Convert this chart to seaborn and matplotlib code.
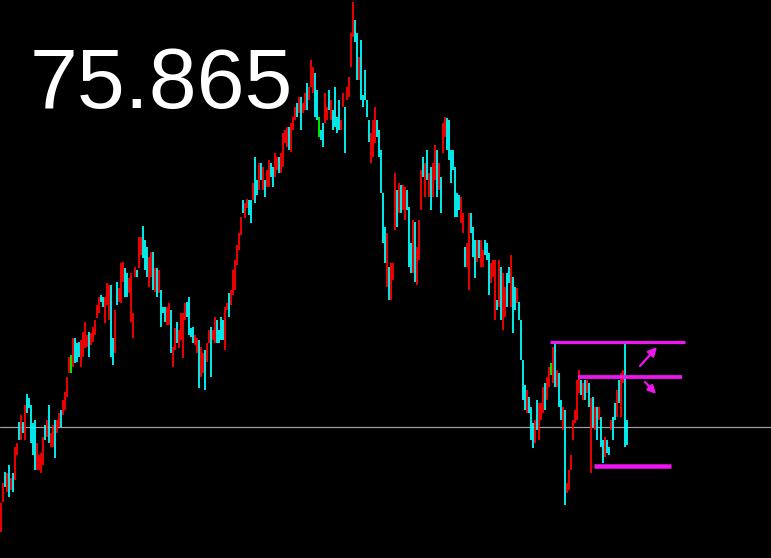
import numpy as np
import pandas as pd
import matplotlib
matplotlib.use("Agg")
import matplotlib.pyplot as plt
import seaborn as sns

# ---- data: bar highs / lows in points above BASE (1 point = 0.01) ----
BASE = 74.555
PT = 0.01

high_pts = [
    55, 75, 86, 85, 93, 80, 85, 111, 115, 136,
    143, 136, 153, 164, 160, 153, 135, 138, 115, 103,
    105, 121, 133, 138, 153, 125, 133, 138, 138, 145,
    148, 158, 166, 181, 201, 203, 220, 220, 215, 216,
    218, 226, 236, 223, 226, 225, 231, 238, 253, 261,
    263, 261, 261, 275, 273, 273, 220, 248, 276, 270,
    295, 296, 290, 285, 280, 285, 245, 291, 288, 321,
    321, 332, 318, 311, 301, 306, 306, 290, 290, 288,
    268, 251, 251, 251, 255, 248, 211, 230, 236, 228,
    245, 245, 255, 256, 261, 230, 231, 223, 220, 218,
    211, 205, 208, 215, 228, 231, 228, 241, 238, 228,
    241, 238, 251, 255, 265, 268, 288, 298, 313, 325,
    341, 358, 355, 359, 358, 358, 375, 401, 378, 395,
    395, 391, 378, 388, 398, 395, 391, 405, 401, 401,
    405, 425, 428, 431, 431, 435, 441, 451, 455, 461,
    461, 455, 465, 475, 471, 498, 491, 485, 468, 441,
    428, 435, 465, 451, 468, 458, 448, 471, 441, 458,
    438, 465, 451, 471, 481, 525, 556, 538, 525, 501,
    518, 463, 488, 458, 438, 425, 438, 451, 438, 428,
    408, 365, 331, 325, 291, 295, 295, 385, 368, 375,
    373, 373, 371, 368, 351, 315, 338, 336, 311, 338,
    388, 401, 395, 408, 385, 391, 395, 413, 408, 395,
    381, 435, 441, 440, 438, 408, 408, 391, 365, 363,
    361, 345, 311, 315, 345, 345, 331, 318, 318, 318,
    318, 308, 318, 315, 305, 295, 298, 298, 258, 298,
    291, 285, 271, 285, 291, 303, 281, 271, 270, 256,
    238, 198, 173, 168, 161, 151, 135, 138, 158, 155,
    155, 171, 175, 181, 191, 195, 211, 215, 188, 185,
    158, 151, 148, 75, 88, 103, 138, 148, 178, 188,
    178, 175, 178, 178, 175, 160, 161, 151, 151, 151,
    141, 118, 121, 118, 111, 138, 141, 155, 168, 178,
    185, 188, 215, 138,
]

low_pts = [
    26, 56, 71, 66, 61, 68, 66, 78, 103, 118,
    118, 125, 118, 145, 150, 115, 103, 88, 88, 88,
    85, 93, 118, 121, 115, 111, 111, 100, 125, 131,
    131, 143, 148, 161, 185, 185, 191, 195, 196, 201,
    191, 201, 210, 211, 201, 213, 216, 223, 240, 245,
    256, 251, 235, 253, 238, 201, 193, 205, 253, 256,
    255, 276, 261, 261, 265, 236, 220, 281, 281, 290,
    303, 300, 288, 281, 271, 281, 268, 266, 261, 265,
    231, 245, 236, 233, 233, 205, 191, 208, 215, 210,
    218, 200, 238, 241, 223, 221, 215, 213, 205, 170,
    181, 185, 168, 196, 215, 181, 218, 215, 215, 215,
    218, 218, 208, 248, 241, 253, 263, 268, 293, 308,
    323, 345, 340, 350, 343, 335, 358, 355, 363, 368,
    378, 368, 361, 371, 371, 381, 371, 381, 388, 385,
    385, 391, 415, 411, 408, 406, 428, 438, 441, 445,
    428, 445, 448, 448, 458, 471, 465, 441, 438, 421,
    418, 411, 435, 438, 448, 438, 428, 431, 425, 428,
    428, 451, 405, 458, 461, 491, 521, 516, 478, 478,
    458, 451, 458, 441, 416, 395, 401, 415, 421, 401,
    365, 315, 295, 271, 258, 258, 278, 328, 331, 345,
    345, 348, 338, 348, 291, 285, 285, 276, 273, 298,
    348, 381, 361, 378, 361, 348, 361, 378, 361, 368,
    345, 405, 421, 408, 398, 375, 388, 341, 341, 348,
    335, 325, 291, 291, 268, 325, 301, 280, 296, 300,
    291, 291, 303, 298, 263, 275, 281, 238, 248, 251,
    238, 228, 241, 251, 275, 251, 225, 248, 255, 238,
    198, 158, 148, 145, 145, 118, 110, 115, 128, 118,
    138, 145, 148, 158, 171, 183, 175, 171, 171, 151,
    138, 128, 53, 65, 68, 88, 118, 135, 138, 165,
    163, 158, 158, 165, 151, 85, 131, 128, 118, 138,
    111, 95, 101, 105, 103, 128, 118, 138, 141, 155,
    141, 175, 111, 113,
]

# r = up bar (red), c = down bar (cyan), g = unchanged (green)
direction = list(
    "rrcrcrcrrc" "rcrcccccrr" "rrcrcrrcrr" "crrrrgrccc" "rrrrcrrrrr"
    "ccrrrccrcr" "rrccrrrrcr" "rcccrrcrcr" "cccrrcrrcr" "rrrccccrrc"
    "rrcrrcrrcc" "ccrrcrrrrr" "rcrrccrccr" "crcrrccrrc" "rrrrcrrrcr"
    "crrcrrrccg" "ccrrcrcccc" "rrcrrrrccr" "cccccrrrcc" "cccrcrrrcr"
    "crrcccrcrr" "rcrcrcrrcr" "crrccccccc" "rrcrrcccrc" "rrcccrrrcr"
    "crrccrccrc" "cccrcccrcr" "rrcrrgrcrc" "crcrrrrrrr" "crcrcrcrcr"
    "ccrccrccrc" "rrcc"
)

current_price = 75.865
price_label = "75.865"

# horizontal levels: (price, first bar, last bar, line width in px)
level_prices = [76.720, 76.365, 75.480]
level_starts = [274.5, 288.5, 296.5]
level_ends = [342.0, 340.5, 335.0]
level_widths_px = [3.2, 3.8, 4.5]

# ---- build long-form table ----
n = len(high_pts)
assert len(low_pts) == n and len(direction) == n
idx = np.arange(n)
prices = np.empty(2 * n)
prices[0::2] = BASE + np.array(low_pts) * PT
prices[1::2] = BASE + np.array(high_pts) * PT
df = pd.DataFrame({
    "bar": np.repeat(idx, 2),
    "x": np.repeat(idx, 2).astype(float),
    "price": prices,
    "dir": np.repeat(direction, 2),
})

sns.set_theme(style="dark")
plt.rcParams["font.family"] = ["Liberation Sans", "DejaVu Sans"]

W, H = 771, 558
fig = plt.figure(figsize=(W / 100, H / 100), dpi=100, facecolor="black")
ax = fig.add_axes([0, 0, 1, 1])
ax.set_facecolor("black")

# current price line
ax.axhline(current_price, color="#9c9ca4", lw=0.9, zorder=1)

sns.lineplot(
    data=df, x="x", y="price", units="bar", estimator=None, hue="dir",
    palette={"r": "#ff0000", "c": "#00ffff", "g": "#00ff00"},
    linewidth=1.3, legend=False, sort=False, ax=ax,
    solid_capstyle="butt", zorder=2,
)

# support / resistance levels
mag = "#f014f0"
for p, s, e, w in zip(level_prices, level_starts, level_ends, level_widths_px):
    ax.hlines(p, s, e, colors=mag, linewidth=w * 0.72, zorder=3)

# arrows
ax.annotate("", xy=(328.0, 76.665), xytext=(319.5, 76.475),
            arrowprops=dict(arrowstyle="-|>", color=mag, lw=1.6,
                            mutation_scale=13, shrinkA=0, shrinkB=0), zorder=4)
ax.annotate("", xy=(327.5, 76.195), xytext=(322.0, 76.315),
            arrowprops=dict(arrowstyle="-|>", color=mag, lw=1.6,
                            mutation_scale=12, shrinkA=0, shrinkB=0), zorder=4)

ax.text(30 / W, 1 - 108 / H, price_label, transform=ax.transAxes,
        color="white", fontsize=62, ha="left", va="baseline",
        family=["Liberation Sans", "DejaVu Sans"])

ax.set_xlim(-0.5, W / 2 - 0.5)
ax.set_ylim(BASE, BASE + H * PT)
ax.axis("off")

fig.savefig("out.png", dpi=100, facecolor="black")
